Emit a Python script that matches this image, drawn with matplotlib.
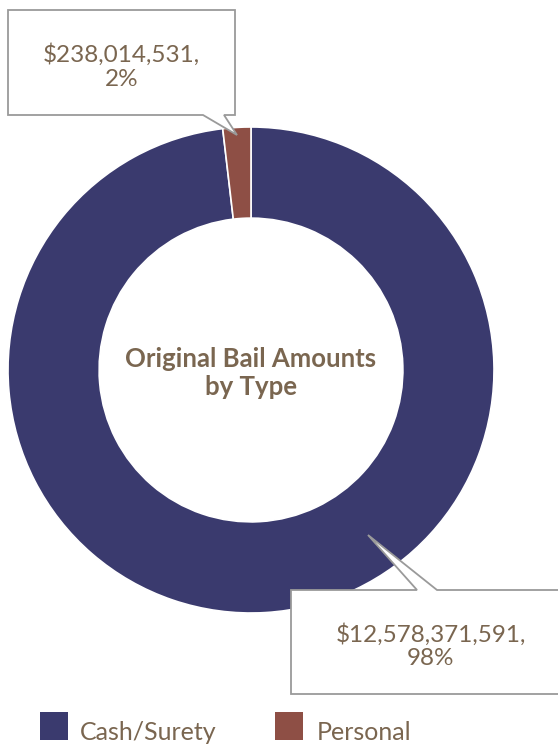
import matplotlib.pyplot as plt
from matplotlib.patches import Polygon, Rectangle

# bail totals by type
bail_types = ['Cash/Surety', 'Personal']
bail_amounts = [12578371591, 238014531]
bail_colors = ['#3a3a6e', '#8e4f45']

text_color = '#7a6650'
plt.rcParams['font.family'] = ['Lato', 'DejaVu Sans']

fig = plt.figure(figsize=(5.58, 7.48), dpi=100)
ax = fig.add_axes([0, 0, 1, 1])

H = 748
cx, cy, r = 251, H - 370, 243

wedges, _ = ax.pie(bail_amounts, colors=bail_colors, startangle=90, counterclock=False,
                   radius=r, center=(cx, cy), frame=True,
                   wedgeprops=dict(width=r * 0.375, edgecolor='white', linewidth=1.2))
ax.set_xlim(0, 558)
ax.set_ylim(0, 748)
ax.axis('off')

ax.text(cx, cy - 3, 'Original Bail Amounts\nby Type', ha='center', va='center',
        fontsize=18.5, fontweight='bold', color=text_color, linespacing=1.2)

total = sum(bail_amounts)


def callout(box, tip, base, label):
    x0, y0, x1, y1 = box
    # box with a pointer notch
    if tip[1] > y1:
        pts = [(x0, y0), (x1, y0), (x1, y1), (base[1], y1), tip, (base[0], y1), (x0, y1)]
    else:
        pts = [(x0, y0), (base[0], y0), tip, (base[1], y0), (x1, y0), (x1, y1), (x0, y1)]
    ax.add_patch(Polygon(pts, closed=True, facecolor='white', edgecolor='#9a9a9a',
                         linewidth=1.3, zorder=5))
    ax.text((x0 + x1) / 2, (y0 + y1) / 2 - 4, label, ha='center', va='center',
            fontsize=17.5, color=text_color, zorder=6, linespacing=1.15)


labels = ['${:,},\n{:.0f}%'.format(v, v / total * 100) for v in bail_amounts]

callout((8, H - 115, 235, H - 10), (237, H - 135), (203, 224), labels[1])
callout((291, H - 694, 570, H - 590), (368, H - 535), (417, 437), labels[0])

# legend
for (x, tx), name, col in zip([(40, 80), (275, 317)], bail_types, bail_colors):
    ax.add_patch(Rectangle((x, H - 740), 28, 28, facecolor=col, edgecolor='none'))
    ax.text(tx, H - 732, name, ha='left', va='center', fontsize=18, color=text_color)

fig.savefig('out.png', dpi=100)
